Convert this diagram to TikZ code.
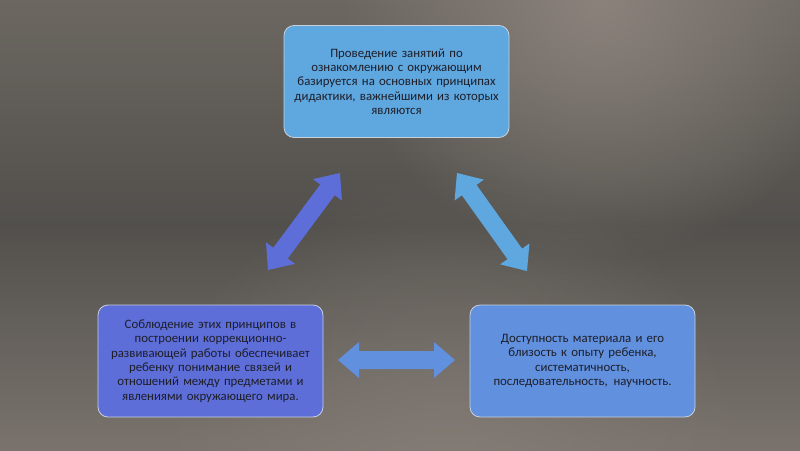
\documentclass[tikz,border=0pt]{standalone}
\usepackage{fontspec}
\setmainfont{Carlito}
\usetikzlibrary{calc,fadings}
\definecolor{bgtop}{HTML}{6C6761}
\definecolor{bgmid}{HTML}{52504C}
\definecolor{bgbot}{HTML}{7A736D}
\definecolor{glow}{HTML}{8A827B}
\definecolor{topfill}{HTML}{5FA7DF}
\definecolor{leftfill}{HTML}{5D6ED9}
\definecolor{rightfill}{HTML}{6090DE}
\definecolor{txt}{HTML}{1E1E28}
\definecolor{edge}{HTML}{C8D0DC}
\tikzfading[name=glowfade, inner color=transparent!0, outer color=transparent!100]
\tikzset{
  infobox/.style={draw=edge, line width=0.8pt, rounded corners=10pt, minimum width=225pt,
    align=center, text=txt, text width=214pt, font=\fontsize{12.8}{14.3}\selectfont},
}
\newcommand{\blockarrow}[3]{%
  \coordinate (#1h) at ($(#1)!21pt!(#2)$);
  \coordinate (#2h) at ($(#2)!21pt!(#1)$);
  \fill[#3] (#1) -- ($(#1h)!18pt!90:(#2)$) -- ($(#1h)!9pt!90:(#2)$)
    -- ($(#2h)!9pt!-90:(#1)$) -- ($(#2h)!18pt!-90:(#1)$) -- (#2)
    -- ($(#2h)!18pt!90:(#1)$) -- ($(#2h)!9pt!90:(#1)$)
    -- ($(#1h)!9pt!-90:(#2)$) -- ($(#1h)!18pt!-90:(#2)$) -- cycle;
}
\begin{document}
\begin{tikzpicture}[x=1pt,y=-1pt]
\useasboundingbox (0,0) rectangle (800,450);
% background
\begin{scope}
\clip (0,0) rectangle (800,450);
\shade[top color=bgtop, bottom color=bgbot, middle color=bgmid] (0,0) rectangle (800,450);
\fill[glow, path fading=glowfade] (600,0) circle (260);
\fill[glow, path fading=glowfade, opacity=0.6] (450,470) circle (300);
\end{scope}
% boxes
\node[infobox, fill=topfill, minimum height=112pt] (top) at (396.5,81.5)
  {Проведение занятий по\\ознакомлению с окружающим\\базируется на основных принципах\\дидактики, важнейшими из которых\\являются};
\node[infobox, fill=leftfill, minimum height=112pt] (left) at (210.5,361)
  {Соблюдение этих принципов в\\построении коррекционно-\\развивающей работы обеспечивает\\ребенку понимание связей и\\отношений между предметами и\\явлениями окружающего мира.};
\node[infobox, fill=rightfill, minimum height=112pt] (right) at (582.5,361)
  {Доступность материала и его\\близость к опыту ребенка,\\систематичность,\\последовательность,\hspace{0.45em}научность.};
% arrow end points
\coordinate (la) at (268,270);
\coordinate (lb) at (340,173);
\coordinate (ra) at (457,173);
\coordinate (rb) at (527,271);
\coordinate (ha) at (338,360);
\coordinate (hb) at (455,360);
\blockarrow{la}{lb}{leftfill}
\blockarrow{ra}{rb}{topfill}
\blockarrow{ha}{hb}{rightfill}
\end{tikzpicture}
\end{document}
